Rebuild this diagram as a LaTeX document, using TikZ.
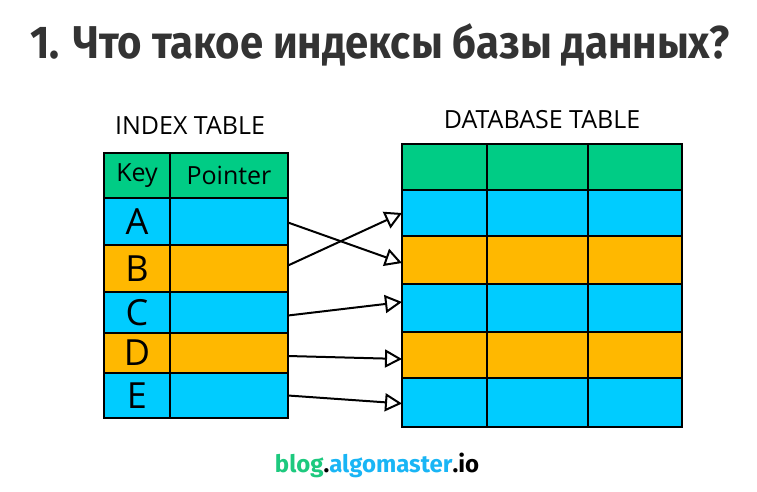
\documentclass[tikz,border=0pt]{standalone}
\usepackage{fontspec}
\setmainfont{Fira Sans}
\newfontfamily\sketchfont{Open Sans}
\usetikzlibrary{arrows.meta, positioning}

\definecolor{hdrgreen}{HTML}{00CC85}
\definecolor{rowblue}{HTML}{00CCFF}
\definecolor{roworange}{HTML}{FFB800}
\definecolor{titlegray}{HTML}{333333}
\definecolor{brandgreen}{HTML}{1DC97E}
\definecolor{brandblue}{HTML}{19B5F5}

\begin{document}
\begin{tikzpicture}[
    x=1pt, y=-1pt,
    % === STYLES ===
    cell/.style={
        rectangle,
        draw=black,
        line width=2pt,
        fill=#1,
        inner sep=0pt,
        outer sep=0pt,
        text centered,
        font=\sketchfont\fontsize{25}{27}\selectfont
    },
    cell/.default=rowblue,
    keycell/.style={
        cell=#1,
        minimum width=66pt,
        font=\sketchfont\fontsize{36}{38}\selectfont
    },
    keycell/.default=rowblue,
    ptrcell/.style={
        cell=#1,
        minimum width=118pt
    },
    ptrcell/.default=rowblue,
    tablelabel/.style={
        font=\sketchfont\fontsize{25}{27}\selectfont,
        text=black
    },
    pointer/.style={
        -{Triangle[open, length=17pt, width=18pt]},
        line width=2pt,
        black
    }
]
\useasboundingbox (0,0) rectangle (757,491);

% === TITLE ===
\node[font=\bfseries\fontsize{46}{50}\selectfont, text=titlegray] (title) at (380,45)
    {\scalebox{0.91}[1]{1. Что такое индексы базы данных?}};

% === INDEX TABLE ===
\node[tablelabel] (idxlabel) at (190,126) {INDEX TABLE};

\node[keycell=hdrgreen, anchor=north west, minimum height=45pt,
      font=\sketchfont\fontsize{25}{27}\selectfont] (keyhdr) at (104,153) {Key};
\node[ptrcell=hdrgreen, right=0pt of keyhdr, minimum height=45pt] (ptrhdr) {Pointer};

% Key rows
\node[keycell, below=0pt of keyhdr, minimum height=47pt] (keya) {A};
\node[keycell=roworange, below=0pt of keya, minimum height=47pt] (keyb) {B};
\node[keycell, below=0pt of keyb, minimum height=41pt] (keyc) {C};
\node[keycell=roworange, below=0pt of keyc, minimum height=40pt] (keyd) {D};
\node[keycell, below=0pt of keyd, minimum height=45pt] (keye) {E};

% Pointer rows
\node[ptrcell, right=0pt of keya, minimum height=47pt] (ptra) {};
\node[ptrcell=roworange, right=0pt of keyb, minimum height=47pt] (ptrb) {};
\node[ptrcell, right=0pt of keyc, minimum height=41pt] (ptrc) {};
\node[ptrcell=roworange, right=0pt of keyd, minimum height=40pt] (ptrd) {};
\node[ptrcell, right=0pt of keye, minimum height=45pt] (ptre) {};

% === DATABASE TABLE ===
\node[tablelabel] (dblabel) at (542,120) {DATABASE TABLE};

% Column 1
\node[cell=hdrgreen, anchor=north west, minimum width=85pt, minimum height=46pt] (dbhdr) at (402,144) {};
\node[cell, below=0pt of dbhdr, minimum width=85pt, minimum height=46pt] (dbrow1) {};
\node[cell=roworange, below=0pt of dbrow1, minimum width=85pt, minimum height=48pt] (dbrow2) {};
\node[cell, below=0pt of dbrow2, minimum width=85pt, minimum height=48pt] (dbrow3) {};
\node[cell=roworange, below=0pt of dbrow3, minimum width=85pt, minimum height=46pt] (dbrow4) {};
\node[cell, below=0pt of dbrow4, minimum width=85pt, minimum height=49pt] (dbrow5) {};

% Column 2
\node[cell=hdrgreen, right=0pt of dbhdr, minimum width=101pt, minimum height=46pt] (dbhdrb) {};
\node[cell, right=0pt of dbrow1, minimum width=101pt, minimum height=46pt] (dbrow1b) {};
\node[cell=roworange, right=0pt of dbrow2, minimum width=101pt, minimum height=48pt] (dbrow2b) {};
\node[cell, right=0pt of dbrow3, minimum width=101pt, minimum height=48pt] (dbrow3b) {};
\node[cell=roworange, right=0pt of dbrow4, minimum width=101pt, minimum height=46pt] (dbrow4b) {};
\node[cell, right=0pt of dbrow5, minimum width=101pt, minimum height=49pt] (dbrow5b) {};

% Column 3
\node[cell=hdrgreen, right=0pt of dbhdrb, minimum width=94pt, minimum height=46pt] (dbhdrc) {};
\node[cell, right=0pt of dbrow1b, minimum width=94pt, minimum height=46pt] (dbrow1c) {};
\node[cell=roworange, right=0pt of dbrow2b, minimum width=94pt, minimum height=48pt] (dbrow2c) {};
\node[cell, right=0pt of dbrow3b, minimum width=94pt, minimum height=48pt] (dbrow3c) {};
\node[cell=roworange, right=0pt of dbrow4b, minimum width=94pt, minimum height=46pt] (dbrow4c) {};
\node[cell, right=0pt of dbrow5b, minimum width=94pt, minimum height=49pt] (dbrow5c) {};

% === POINTERS ===
\draw[pointer] ([yshift=-1pt]ptra.east) -- ([yshift=-3pt]dbrow2.west);
\draw[pointer] ([yshift=3pt]ptrb.east) -- (dbrow1.west);
\draw[pointer] ([yshift=-3pt]ptrc.east) -- ([yshift=6pt]dbrow3.west);
\draw[pointer] ([yshift=-3pt]ptrd.east) -- ([yshift=-4pt]dbrow4.west);
\draw[pointer] (ptre.east) -- ([yshift=-1pt]dbrow5.west);

% === FOOTER ===
\node[font=\bfseries\fontsize{24}{26}\selectfont] (footer) at (377,465)
    {\textcolor{brandgreen}{blog}.\textcolor{brandblue}{algomaster}.io};

\end{tikzpicture}
\end{document}
